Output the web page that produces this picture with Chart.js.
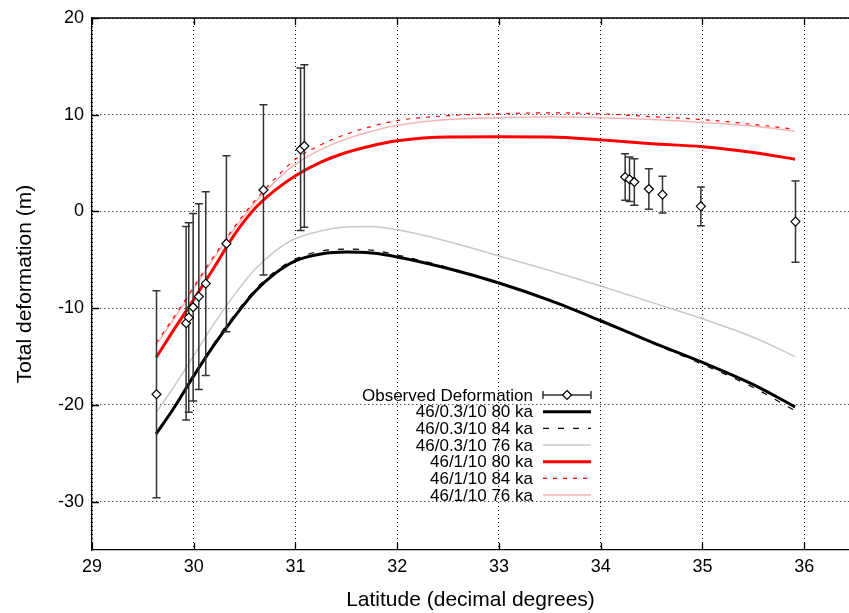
<!DOCTYPE html>
<html><head><meta charset="utf-8">
<script src="https://cdn.jsdelivr.net/npm/chart.js@4/dist/chart.umd.min.js"></script>
<style>html,body{margin:0;padding:0;background:#fff;} canvas{display:block}</style>
</head><body>
<canvas id="c" width="849" height="613"></canvas>
<script>
// ---- data ----
const obsLat = [29.634, 29.925, 29.951, 29.994, 30.05, 30.118, 30.321, 30.685, 31.05, 31.087, 34.24, 34.283, 34.33, 34.473, 34.607, 34.984, 35.914];
const obsVal = [-18.9, -11.55, -10.97, -9.9, -8.8, -7.46, -3.33, 2.22, 6.42, 6.77, 3.56, 3.32, 3.05, 2.32, 1.74, 0.53, -1.05];
const obsErr = [10.7, 10.0, 9.8, 9.7, 9.6, 9.5, 9.1, 8.8, 8.4, 8.4, 2.4, 2.3, 2.4, 2.1, 1.9, 2.0, 4.2];

const modelLat = [29.63, 29.8, 30.0, 30.2, 30.4, 30.6, 30.8, 31.0, 31.25, 31.5, 31.75, 32.0, 32.5, 33.0, 33.5, 34.0, 34.5, 35.0, 35.5, 35.91];
const m03_80 = [-23.0, -20.4, -17.0, -13.8, -10.9, -8.3, -6.4, -5.1, -4.4, -4.2, -4.3, -4.7, -5.9, -7.4, -9.2, -11.3, -13.5, -15.6, -17.9, -20.2];
const m03_84 = [-23.0, -20.3, -16.9, -13.6, -10.7, -8.1, -6.2, -4.9, -4.1, -3.9, -4.0, -4.5, -5.8, -7.4, -9.2, -11.3, -13.6, -15.8, -18.2, -20.6];
const m03_76 = [-20.8, -18.2, -14.9, -11.6, -8.6, -6.0, -4.1, -2.8, -2.0, -1.6, -1.55, -1.9, -3.1, -4.6, -6.1, -7.7, -9.4, -11.1, -13.0, -15.0];
const m1_80  = [-15.1, -12.3, -9.1, -5.8, -2.4, 0.3, 2.2, 3.7, 5.1, 6.1, 6.8, 7.3, 7.7, 7.72, 7.7, 7.4, 7.0, 6.7, 6.1, 5.4];
const m1_84  = [-13.6, -11.0, -7.8, -4.6, -1.6, 1.1, 3.4, 5.4, 6.9, 8.0, 8.8, 9.4, 9.9, 10.1, 10.2, 10.1, 9.8, 9.5, 9.0, 8.5];
const m1_76  = [-13.8, -11.2, -8.0, -4.8, -1.8, 0.9, 3.1, 4.9, 6.4, 7.5, 8.3, 8.9, 9.5, 9.7, 9.8, 9.7, 9.5, 9.2, 8.8, 8.3];

const xTicks = [29, 30, 31, 32, 33, 34, 35, 36];
const yTicks = [-30, -20, -10, 0, 10, 20];

const FONT = "'Liberation Sans', Arial, Helvetica, sans-serif";
const pts = (xs, ys) => xs.map((x, i) => ({x, y: ys[i]}));

const lineDs = (label, ys, color, width, dash) => ({
  label, data: pts(modelLat, ys), borderColor: color, borderWidth: width,
  borderDash: dash || [], pointRadius: 0, fill: false, showLine: true,
  cubicInterpolationMode: 'monotone', order: 1
});

// ---- plugins ----
const errorBars = {
  id: 'errorBars',
  beforeDatasetDraw(chart, args) {
    if (args.index !== 0) return;
    const {ctx, scales: {x, y}} = chart;
    ctx.save();
    ctx.strokeStyle = '#333';
    ctx.lineWidth = 1.5;
    obsLat.forEach((lat, i) => {
      const px = x.getPixelForValue(lat);
      const yt = y.getPixelForValue(obsVal[i] + obsErr[i]);
      const yb = y.getPixelForValue(obsVal[i] - obsErr[i]);
      ctx.beginPath();
      ctx.moveTo(px, yt); ctx.lineTo(px, yb);
      ctx.moveTo(px - 4, yt); ctx.lineTo(px + 4, yt);
      ctx.moveTo(px - 4, yb); ctx.lineTo(px + 4, yb);
      ctx.stroke();
    });
    ctx.restore();
  }
};

const frame = {
  id: 'frame',
  beforeDatasetsDraw(chart) {
    const {ctx, chartArea: a, scales: {x, y}} = chart;
    ctx.save();
    ctx.strokeStyle = '#000';
    ctx.lineWidth = 1.3;
    ctx.beginPath();
    ctx.moveTo(a.left, a.top); ctx.lineTo(a.right, a.top);
    xTicks.forEach(v => {
      const px = Math.round(x.getPixelForValue(v)) + 0.5;
      ctx.moveTo(px, a.bottom); ctx.lineTo(px, a.bottom - 7);
      ctx.moveTo(px, a.top); ctx.lineTo(px, a.top + 7);
    });
    yTicks.forEach(v => {
      const py = Math.round(y.getPixelForValue(v)) + 0.5;
      ctx.moveTo(a.left, py); ctx.lineTo(a.left + 7, py);
    });
    ctx.stroke();
    ctx.restore();
  }
};

const customLegend = {
  id: 'customLegend',
  afterDraw(chart) {
    const {ctx} = chart;
    const textRight = 533, x0 = 543, x1 = 591, top = 395, step = 16.67;
    ctx.save();
    ctx.font = '17px ' + FONT;
    ctx.textAlign = 'right';
    ctx.textBaseline = 'middle';
    chart.data.datasets.forEach((ds, i) => {
      const yy = top + i * step;
      ctx.fillStyle = '#000';
      ctx.fillText(ds.label, textRight, yy + 1);
      ctx.beginPath();
      if (i === 0) {
        ctx.strokeStyle = '#333'; ctx.lineWidth = 1.5; ctx.setLineDash([]);
        ctx.moveTo(x0, yy); ctx.lineTo(x1, yy);
        ctx.moveTo(x0, yy - 4); ctx.lineTo(x0, yy + 4);
        ctx.moveTo(x1, yy - 4); ctx.lineTo(x1, yy + 4);
        ctx.stroke();
        const cx = (x0 + x1) / 2, r = 4.5;
        ctx.beginPath();
        ctx.moveTo(cx, yy - r); ctx.lineTo(cx + r, yy); ctx.lineTo(cx, yy + r); ctx.lineTo(cx - r, yy); ctx.closePath();
        ctx.fillStyle = '#fff'; ctx.fill();
        ctx.strokeStyle = '#000'; ctx.lineWidth = 1.2; ctx.stroke();
      } else {
        ctx.strokeStyle = ds.borderColor; ctx.lineWidth = ds.borderWidth;
        ctx.setLineDash(ds.borderDash || []);
        ctx.moveTo(x0, yy); ctx.lineTo(x1, yy);
        ctx.stroke();
        ctx.setLineDash([]);
      }
    });
    ctx.restore();
  }
};

new Chart(document.getElementById('c'), {
  type: 'scatter',
  data: {
    datasets: [
      { label: 'Observed Deformation', data: pts(obsLat, obsVal), showLine: false,
        pointStyle: 'rectRot', pointRadius: 4.5, pointBackgroundColor: '#fff',
        pointBorderColor: '#000', pointBorderWidth: 1.2, order: 0 },
      lineDs('46/0.3/10 80 ka', m03_80, '#000000', 3),
      lineDs('46/0.3/10 84 ka', m03_84, '#000000', 1.2, [6, 9]),
      lineDs('46/0.3/10 76 ka', m03_76, '#c8c8c8', 1.5),
      lineDs('46/1/10 80 ka', m1_80, '#ff0000', 3),
      lineDs('46/1/10 84 ka', m1_84, '#ff0000', 1.2, [4, 6]),
      lineDs('46/1/10 76 ka', m1_76, '#f5b5b5', 1.5)
    ]
  },
  options: {
    responsive: false, animation: false, devicePixelRatio: 1,
    layout: { autoPadding: false, padding: { top: 18, right: 0, left: 0, bottom: 0 } },
    plugins: { legend: { display: false }, tooltip: { enabled: false } },
    scales: {
      x: {
        type: 'linear', min: 29, max: 36.44,
        afterBuildTicks: s => { s.ticks = xTicks.map(v => ({value: v})); },
        afterFit: s => { s.height = 63; s.paddingLeft = 0; s.paddingRight = 0; },
        grid: { color: '#000', lineWidth: 1, drawTicks: false },
        border: { color: '#000', width: 1.3, dash: [1, 3] },
        ticks: { color: '#000', padding: 6, font: { family: FONT, size: 18 }, maxRotation: 0 },
        title: { display: true, text: 'Latitude (decimal degrees)', color: '#000',
                 font: { family: FONT, size: 21 }, padding: { top: 0, bottom: 0 } }
      },
      y: {
        type: 'linear', min: -35, max: 20,
        afterBuildTicks: s => { s.ticks = yTicks.map(v => ({value: v})); },
        afterFit: s => { s.width = 92; s.paddingTop = 0; s.paddingBottom = 0; },
        grid: { color: '#000', lineWidth: 1, drawTicks: false },
        border: { color: '#000', width: 1.3, dash: [1, 3] },
        ticks: { color: '#000', padding: 8, font: { family: FONT, size: 18 } },
        title: { display: true, text: 'Total deformation (m)', color: '#000',
                 font: { family: FONT, size: 21 }, padding: { top: 13, bottom: 0 } }
      }
    }
  },
  plugins: [errorBars, frame, customLegend]
});
</script>
</body></html>
